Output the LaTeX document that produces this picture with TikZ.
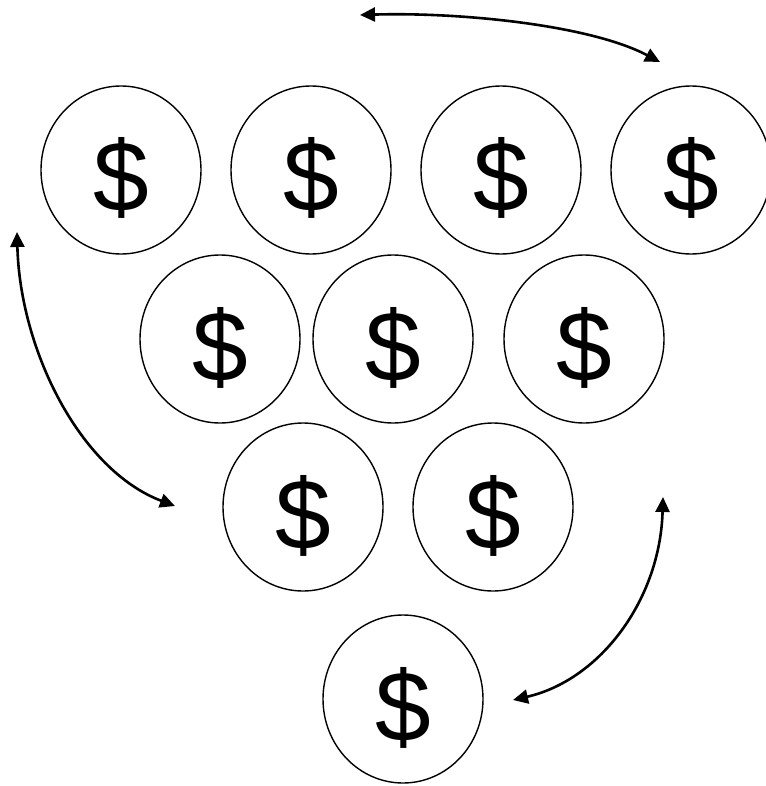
\documentclass[tikz,border=0pt]{standalone}
\usepackage{fontspec}
\setmainfont{Liberation Sans}
\usetikzlibrary{arrows.meta,shapes.geometric}
\begin{document}
\begin{tikzpicture}[x=1pt,y=-1pt,
  coin/.style={draw=black,line width=1.4pt,ellipse,minimum width=160pt,minimum height=168pt,inner sep=0pt},
  dollar/.style={anchor=base,font=\fontsize{100}{100}\selectfont,inner sep=0pt},
  swap/.style={line width=2.6pt,{Triangle[length=15pt,width=14pt]}-{Triangle[length=15pt,width=14pt]}}]
\useasboundingbox (0,0) rectangle (765,786);
% coins
\node[coin] (c1) at (121,170) {};
\node[coin] (c2) at (311,170) {};
\node[coin] (c3) at (501,170) {};
\node[coin] (c4) at (691,170) {};
\node[coin] (c5) at (220,339) {};
\node[coin] (c6) at (393,339) {};
\node[coin] (c7) at (584,339) {};
\node[coin] (c8) at (303,507) {};
\node[coin] (c9) at (493,507) {};
\node[coin] (c10) at (403,699) {};
% dollar signs
\foreach \n in {1,...,10}{
  \node[dollar] (d\n) at ([yshift=-42pt]c\n.center) {\$};
}
% arrow end points
\coordinate (ta) at (360,15);
\coordinate (tb) at (660,62);
\coordinate (la) at (17,232);
\coordinate (lb) at (175,506);
\coordinate (ra) at (663,497);
\coordinate (rb) at (513,700);
\draw[swap] (ta) .. controls (460,12) and (590,25) .. (tb);
\draw[swap] (la) .. controls (20,350) and (80,470) .. (lb);
\draw[swap] (ra) .. controls (660,600) and (600,680) .. (rb);
\end{tikzpicture}
\end{document}
